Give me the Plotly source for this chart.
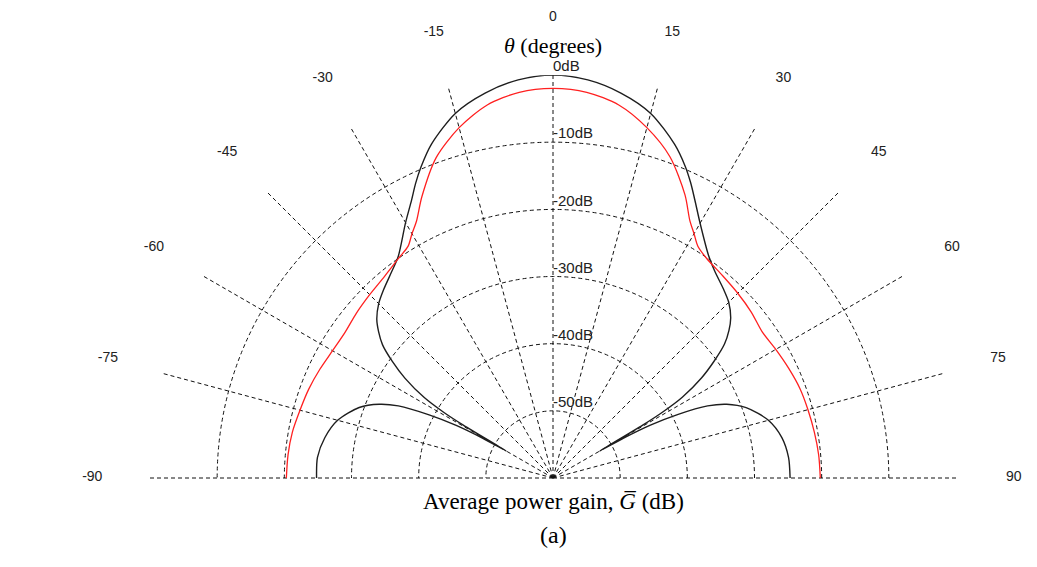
import plotly.graph_objects as go

# ---------------- data ----------------
angle_ticks = [-90, -75, -60, -45, -30, -15, 0, 15, 30, 45, 60, 75, 90]
angle_labels = ["-90", "-75", "-60", "-45", "-30", "-15", "0", "15", "30", "45", "60", "75", "90"]

ring_vals = [0, -10, -20, -30, -40, -50]
ring_labels = ["0dB", "-10dB", "-20dB", "-30dB", "-40dB", "-50dB"]

# black curve (theta in degrees, gain in dB)
black_theta = [-90, -85, -80, -75, -70, -67, -65, -63, -61.5, -60.5, -60,
               -59.5, -59, -58, -56, -54, -52, -50, -48, -45, -42, -38, -35,
               -30, -27, -25, -23, -20, -15, -10, -5, 0,
               5, 10, 15, 20, 23, 25, 27, 30, 35, 38, 42, 45, 48, 50, 52, 54,
               56, 58, 59, 59.5, 60, 60.5, 61.5, 63, 65, 67, 70, 75, 80, 85, 90]
black_gain = [-24.8, -24.8, -25.5, -26.8, -29.3, -31.9, -34.6, -39.3, -43.6, -48.0, -52.0,
              -44.5, -41.0, -37.4, -33.4, -30.4, -27.8, -26.1, -24.7, -23.3, -22.3, -21.0, -19.8,
              -16.1, -13.6, -11.6, -9.7, -7.1, -3.8, -1.8, -0.5, 0.0,
              -0.5, -1.8, -3.8, -7.1, -9.6, -11.5, -13.5, -16.2, -19.6, -20.9, -22.1, -23.0, -24.4, -25.8, -27.6, -30.3,
              -33.3, -37.3, -41.0, -44.5, -52.0, -48.0, -43.5, -39.2, -34.6, -31.9, -29.4, -26.8, -25.4, -24.8, -24.7]

# red curve
red_theta = [-90, -85, -80, -75, -70, -65, -60, -55, -50, -45, -40, -35, -32, -30,
             -28, -25, -20, -15, -10, -5, 0, 5, 10, 15, 20, 25, 28, 30, 32, 35,
             40, 45, 50, 55, 60, 65, 70, 75, 80, 85, 90]
red_gain = [-20.3, -20.4, -20.6, -21.0, -21.3, -21.7, -22.1, -22.2, -21.8, -21.4, -20.9, -20.0, -19.3, -18.0,
            -16.7, -13.8, -9.2, -6.0, -3.6, -2.35, -2.0, -2.35, -3.6, -6.0, -9.1, -13.5, -16.6, -18.0, -19.3, -20.1,
            -20.7, -21.1, -21.5, -22.0, -21.7, -21.3, -20.9, -20.7, -20.5, -20.3, -20.2]

R_MIN, R_MAX = -60, 0
LABEL_R = 8.6           # angular labels sit a little outside the 0 dB ring

GRID = "#111111"
DASH = "4px,3px"

# page body has an 8px margin: draw in a slightly smaller figure, shifted
OFF = 8
W, H = 1037 - 2 * OFF, 567 - 2 * OFF
cx, cy, R = 553 - OFF, 478 - OFF, 403
R2 = R * (LABEL_R - R_MIN) / (R_MAX - R_MIN)

fig = go.Figure()

fig.add_trace(go.Scatterpolar(
    r=black_gain, theta=black_theta, mode="lines",
    line=dict(color="#1e1e1e", width=1.4, shape="spline", smoothing=0.8),
    showlegend=False, hoverinfo="skip"))
fig.add_trace(go.Scatterpolar(
    r=red_gain, theta=red_theta, mode="lines",
    line=dict(color="#ff2020", width=1.3, shape="spline", smoothing=0.8),
    showlegend=False, hoverinfo="skip"))

fig.add_trace(go.Scatterpolar(
    r=ring_vals, theta=[0] * len(ring_vals), mode="text", text=ring_labels,
    textposition="top right", cliponaxis=False,
    textfont=dict(family="Liberation Sans, Arial", size=15, color="#222222"),
    showlegend=False, hoverinfo="skip"))

fig.add_trace(go.Scatterpolar(
    r=[LABEL_R] * len(angle_ticks), theta=angle_ticks, mode="text", text=angle_labels,
    textposition="middle center", cliponaxis=False, subplot="polar2",
    textfont=dict(family="Liberation Sans, Arial", size=14, color="#222222"),
    showlegend=False, hoverinfo="skip"))

hidden_axes = dict(
    radialaxis=dict(range=[R_MIN, LABEL_R], visible=False),
    angularaxis=dict(rotation=90, direction="clockwise", visible=False, thetaunit="degrees"),
)

fig.update_layout(
    width=W, height=H,
    margin=dict(l=0, r=0, t=0, b=0),
    paper_bgcolor="white",
    plot_bgcolor="white",
    showlegend=False,
    polar=dict(
        domain=dict(x=[(cx - R) / W, (cx + R) / W], y=[(H - cy) / H, (H - cy + R) / H]),
        sector=[0, 180],
        bgcolor="white",
        radialaxis=dict(range=[R_MIN, R_MAX], tickvals=ring_vals, showticklabels=False,
                        ticks="", showline=False, showgrid=True, gridcolor=GRID,
                        griddash=DASH, gridwidth=1, angle=90),
        angularaxis=dict(rotation=90, direction="clockwise", tickvals=angle_ticks,
                         showticklabels=False, ticks="", showline=False, showgrid=True,
                         gridcolor=GRID, griddash=DASH, gridwidth=1, thetaunit="degrees"),
    ),
    polar2=dict(
        domain=dict(x=[(cx - R2) / W, (cx + R2) / W], y=[(H - cy) / H, (H - cy + R2) / H]),
        sector=[0, 180],
        bgcolor="rgba(0,0,0,0)",
        **hidden_axes,
    ),
    annotations=[
        dict(text="<i>θ</i> (degrees)", x=cx / W, y=1 - (45 - OFF) / H, xref="paper", yref="paper",
             showarrow=False, xanchor="center", yanchor="middle",
             font=dict(family="Liberation Serif, Times New Roman", size=22, color="black")),
        dict(text="Average power gain, <i>G̅</i> (dB)", x=cx / W, y=1 - (501 - OFF) / H,
             xref="paper", yref="paper", showarrow=False, xanchor="center", yanchor="middle",
             font=dict(family="Liberation Serif, Times New Roman", size=23, color="black")),
        dict(text="(a)", x=cx / W, y=1 - (535 - OFF) / H, xref="paper", yref="paper",
             showarrow=False, xanchor="center", yanchor="middle",
             font=dict(family="Liberation Serif, Times New Roman", size=24, color="black")),
    ],
)

fig.write_html("out.html")
